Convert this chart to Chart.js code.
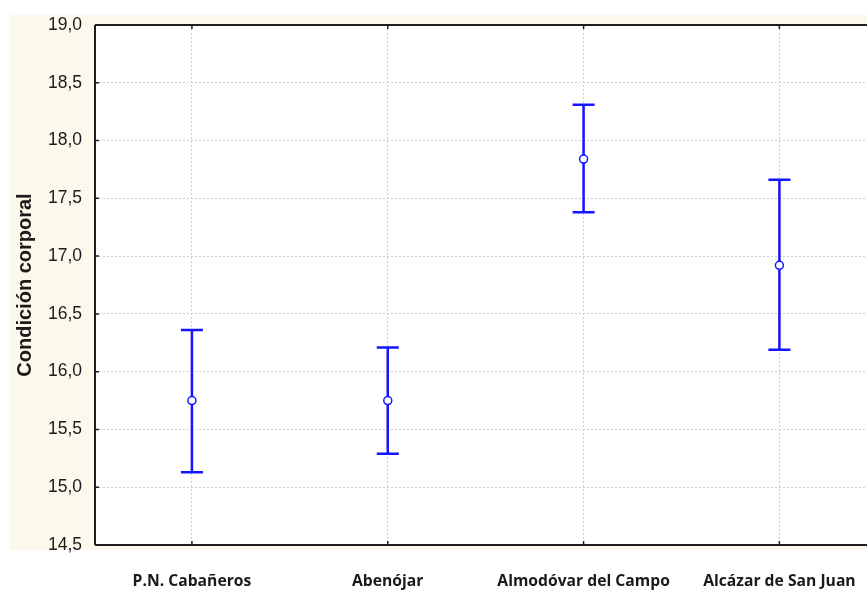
<!DOCTYPE html>
<html>
<head>
<meta charset="utf-8">
<script src="https://cdn.jsdelivr.net/npm/chart.js@4"></script>
<style>
  html, body { margin: 0; padding: 0; background: #ffffff; overflow: hidden; }
  #wrap { position: relative; width: 867px; height: 591px; overflow: hidden; }
  #cream { position: absolute; left: 9px; top: 15px; width: 858px; height: 535px; background: #fdf8ec; }
  #c { position: absolute; left: 0; top: 0; }
</style>
</head>
<body>
<div id="wrap">
  <div id="cream"></div>
  <canvas id="c" width="874" height="591"></canvas>
</div>
<script>
const categories = ["P.N. Cabañeros", "Abenójar", "Almodóvar del Campo", "Alcázar de San Juan"];
const means = [15.75, 15.75, 17.84, 16.92];
const upper = [16.36, 16.21, 18.31, 17.66];
const lower = [15.13, 15.29, 17.38, 16.19];
const yTicks = [14.5, 15.0, 15.5, 16.0, 16.5, 17.0, 17.5, 18.0, 18.5, 19.0];
const yTitle = "Condición corporal";

const BLUE = "#1414ff";

const framePlugin = {
  id: "frame",
  beforeDraw(chart) {
    const { ctx, chartArea: a } = chart;
    ctx.save();
    ctx.fillStyle = "#ffffff";
    ctx.fillRect(a.left, a.top, a.right - a.left, a.bottom - a.top);
    ctx.restore();
  },
  afterDatasetsDraw(chart) {
    const { ctx, chartArea: a, scales } = chart;
    const x = scales.x, y = scales.y;
    ctx.save();
    // error bars
    ctx.strokeStyle = BLUE;
    ctx.lineWidth = 2.5;
    for (let i = 0; i < categories.length; i++) {
      const px = x.getPixelForValue(i + 1);
      const pu = y.getPixelForValue(upper[i]);
      const pl = y.getPixelForValue(lower[i]);
      const pm = y.getPixelForValue(means[i]);
      ctx.beginPath();
      ctx.moveTo(px, pu); ctx.lineTo(px, pm - 4);
      ctx.moveTo(px, pm + 4); ctx.lineTo(px, pl);
      ctx.moveTo(px - 11, pu); ctx.lineTo(px + 11, pu);
      ctx.moveTo(px - 11, pl); ctx.lineTo(px + 11, pl);
      ctx.stroke();
    }
    // frame lines
    ctx.strokeStyle = "#1e1e1e";
    ctx.lineWidth = 2;
    ctx.beginPath();
    ctx.moveTo(a.left, a.top); ctx.lineTo(a.right, a.top);
    ctx.moveTo(a.left, a.top); ctx.lineTo(a.left, a.bottom);
    ctx.moveTo(a.left, a.bottom); ctx.lineTo(a.right, a.bottom);
    ctx.stroke();
    // inward tick marks
    ctx.lineWidth = 1.5;
    ctx.beginPath();
    yTicks.forEach(v => {
      const py = y.getPixelForValue(v);
      ctx.moveTo(a.left, py); ctx.lineTo(a.left + 4, py);
    });
    for (let i = 1; i <= categories.length; i++) {
      const px = x.getPixelForValue(i);
      ctx.moveTo(px, a.bottom); ctx.lineTo(px, a.bottom - 4);
      ctx.moveTo(px, a.top); ctx.lineTo(px, a.top + 4);
    }
    ctx.stroke();
    ctx.restore();
  }
};

new Chart(document.getElementById("c"), {
  type: "scatter",
  data: {
    datasets: [{
      data: means.map((m, i) => ({ x: i + 1, y: m })),
      pointRadius: 4,
      pointBackgroundColor: "#ffffff",
      pointBorderColor: BLUE,
      pointBorderWidth: 1.5,
      showLine: false
    }]
  },
  options: {
    responsive: false,
    animation: false,
    layout: { padding: { top: 25, right: 0, left: 0, bottom: 0 } },
    plugins: { legend: { display: false }, tooltip: { enabled: false } },
    scales: {
      x: {
        type: "linear",
        min: 0.505,
        max: 4.455,
        afterBuildTicks: s => { s.ticks = categories.map((c, i) => ({ value: i + 1 })); },
        afterFit: s => { s.height = 46; s.paddingLeft = 0; s.paddingRight = 0; },
        ticks: {
          callback: v => categories[Math.round(v) - 1],
          autoSkip: false,
          maxRotation: 0,
          padding: 27,
          color: "#1a1a1a",
          font: { family: "'Open Sans'", size: 15.7, weight: "bold" }
        },
        grid: { color: "#cfcfcf", borderDash: [2, 2], drawTicks: false, lineWidth: 1 },
        border: { display: false, dash: [2, 2] }
      },
      y: {
        min: 14.5,
        max: 19,
        afterBuildTicks: s => { s.ticks = yTicks.map(v => ({ value: v })); },
        afterFit: s => { s.width = 95; },
        ticks: {
          callback: v => v.toFixed(1).replace(".", ","),
          padding: 13,
          color: "#1a1a1a",
          font: { family: "'Liberation Sans', Arial", size: 17.5 }
        },
        title: {
          display: true,
          text: yTitle,
          color: "#1a1a1a",
          font: { family: "'Liberation Sans', Arial", size: 20, weight: "bold" },
          padding: { top: 13, bottom: 0 }
        },
        grid: { color: "#cfcfcf", drawTicks: false, lineWidth: 1 },
        border: { display: false, dash: [2, 2] }
      }
    }
  },
  plugins: [framePlugin]
});
</script>
</body>
</html>
